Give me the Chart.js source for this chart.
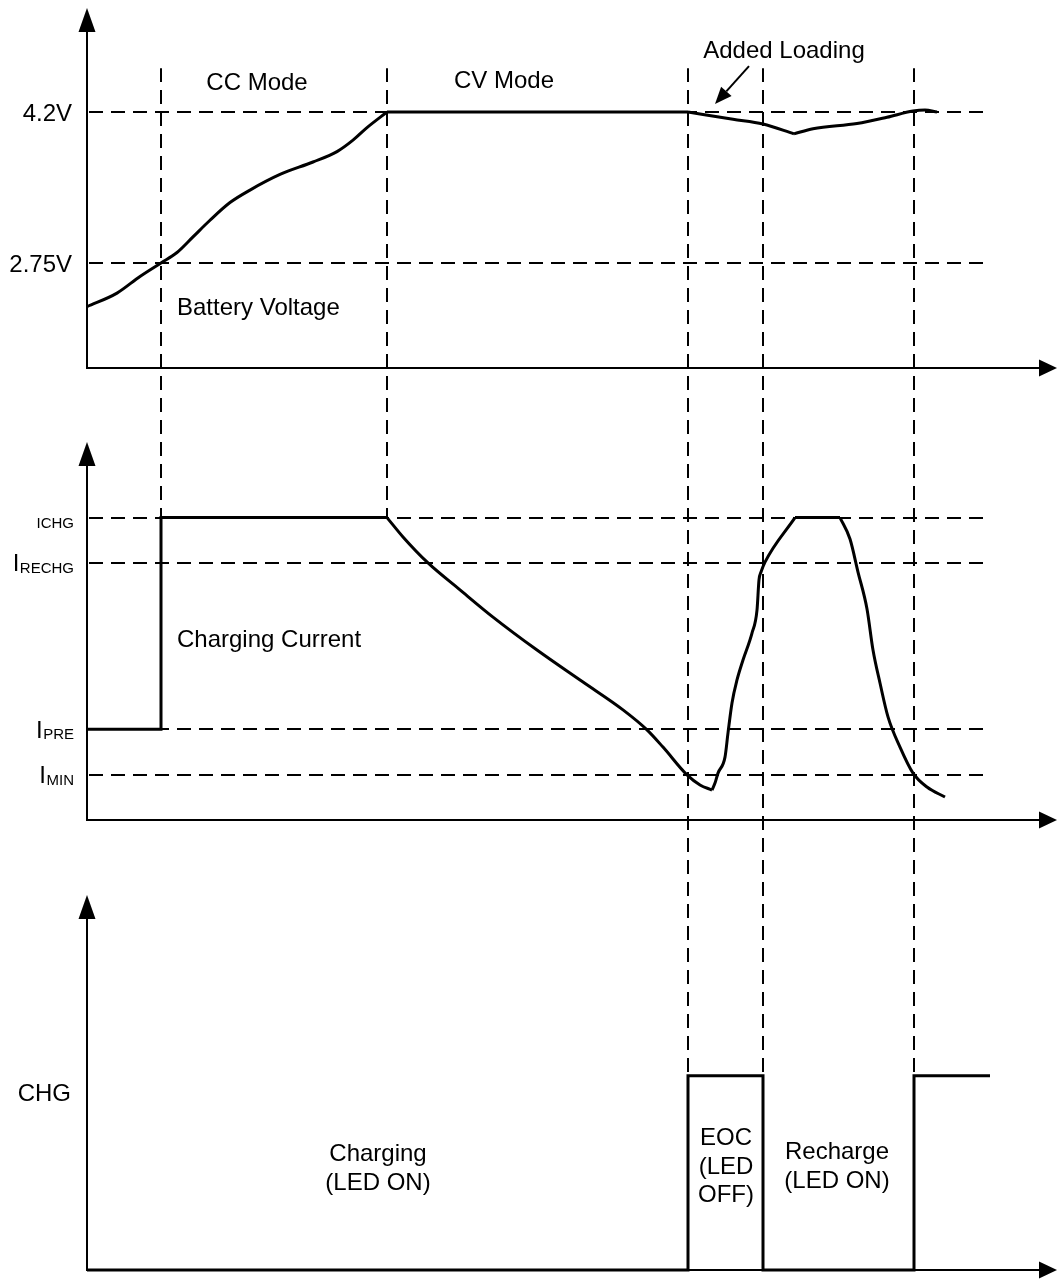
<!DOCTYPE html>
<html><head><meta charset="utf-8">
<script src="https://cdn.jsdelivr.net/npm/chart.js@4.4.1/dist/chart.umd.min.js"></script>
<style>
html,body{margin:0;padding:0;background:#fff;}
#wrap{position:relative;width:1057px;height:1280px;overflow:hidden;}
canvas{position:absolute;left:0;}
</style></head><body>
<div id="wrap">
<canvas id="c1" width="1057" height="400" style="top:0px"></canvas>
<canvas id="c2" width="1057" height="450" style="top:400px"></canvas>
<canvas id="c3" width="1057" height="430" style="top:850px"></canvas>
</div>
<script>
// ---------- DATA (time axis in arbitrary units) ----------
const markerTimes = [74, 300, 601, 676, 827];   // phase boundaries (dashed verticals)
const markerReach = [2, 2, 3, 3, 3];            // last panel each boundary reaches
const levelLineEndT = 903;

// Battery voltage (V)
const voltLevels = [4.2, 2.75];
const voltTickLabels = ['4.2V', '2.75V'];
const vRiseT = [0, 30, 53, 74, 90, 106, 123, 143, 163, 193, 226, 250, 266, 280, 300];
const vRiseV = [2.33, 2.46, 2.62, 2.75, 2.85, 3.00, 3.16, 3.33, 3.45, 3.60, 3.72, 3.82, 3.93, 4.05, 4.20];
const vFlatT = [300, 601];
const vFlatV = [4.20, 4.20];
const vDipT = [601, 646, 676, 707];
const vDipV = [4.20, 4.13, 4.085, 3.99];
const vRecT = [707, 726, 770, 800, 826, 838, 850];
const vRecV = [3.99, 4.04, 4.09, 4.15, 4.21, 4.22, 4.20];

// Charging current (relative to ICHG)
const curLevels = [1.0, 0.85, 0.30, 0.15];
const curLabelMain = ['', 'I', 'I', 'I'];
const curLabelSub = ['ICHG', 'RECHG', 'PRE', 'MIN'];
const iStepT = [0, 74, 74, 300];
const iStepV = [0.30, 0.30, 1.0, 1.0];
const iFallT = [300, 316, 341, 373, 406, 450, 496, 536, 560, 576, 600, 613, 625];
const iFallV = [1.0, 0.936, 0.850, 0.761, 0.671, 0.562, 0.456, 0.364, 0.298, 0.241, 0.149, 0.116, 0.099];
const iRiseT = [625, 628, 631, 638, 641, 645, 650, 656, 665, 670, 672, 674, 678, 708];
const iRiseV = [0.099, 0.122, 0.155, 0.208, 0.288, 0.387, 0.463, 0.529, 0.618, 0.694, 0.794, 0.820, 0.853, 1.0];
const iTopT = [708, 753];
const iTopV = [1.0, 1.0];
const iDropT = [753, 763, 771, 780, 786, 793, 801, 813, 826, 840, 858];
const iDropV = [1.0, 0.929, 0.820, 0.698, 0.562, 0.453, 0.341, 0.241, 0.155, 0.109, 0.076];

// CHG status pin (logic level)
const chgT = [0, 601, 601, 676, 676, 827, 827, 903];
const chgV = [0, 0, 1, 1, 0, 0, 1, 1];

// Text
const panel1Texts = ['CC Mode', 'CV Mode', 'Battery Voltage', 'Added Loading'];
const panel2Texts = ['Charging Current'];
const chgAxisLabel = 'CHG';
const chargingText = ['Charging', '(LED ON)'];
const eocText = ['EOC', '(LED', 'OFF)'];
const rechargeText = ['Recharge', '(LED ON)'];

// ---------- DRAWING ----------
const FONT = '"Liberation Sans", Arial, Helvetica, sans-serif';
const DASH = [14, 8];
const DASH_START_PAGE_Y = 68;
const X_MIN = 0, X_MAX = 970;

const pts = (ts, vs) => ts.map((t, i) => ({ x: t, y: vs[i] }));
function seg(ts, vs, smooth) {
  return {
    data: pts(ts, vs), borderColor: '#000', borderWidth: 3, pointRadius: 0,
    fill: false, clip: false, tension: smooth ? 0.4 : 0,
    cubicInterpolationMode: smooth ? 'monotone' : 'default',
    borderJoinStyle: 'miter', borderCapStyle: 'butt'
  };
}
function dashed(ctx, x0, y0, x1, y1, offset) {
  ctx.save();
  ctx.setLineDash(DASH);
  ctx.lineDashOffset = offset || 0;
  ctx.lineWidth = 2; ctx.strokeStyle = '#000';
  ctx.beginPath(); ctx.moveTo(x0, y0); ctx.lineTo(x1, y1); ctx.stroke();
  ctx.restore();
}
function axes(chart) {
  const { ctx, chartArea: { left, top, right, bottom } } = chart;
  ctx.save();
  ctx.strokeStyle = '#000'; ctx.fillStyle = '#000'; ctx.lineWidth = 2;
  ctx.beginPath();
  ctx.moveTo(left, bottom + 1); ctx.lineTo(left, top + 20);
  ctx.moveTo(left - 1, bottom); ctx.lineTo(right - 16, bottom);
  ctx.stroke();
  ctx.beginPath(); ctx.moveTo(left, top); ctx.lineTo(left - 8.5, top + 24); ctx.lineTo(left + 8.5, top + 24); ctx.closePath(); ctx.fill();
  ctx.beginPath(); ctx.moveTo(right, bottom); ctx.lineTo(right - 18, bottom - 8.5); ctx.lineTo(right - 18, bottom + 8.5); ctx.closePath(); ctx.fill();
  ctx.restore();
}
function txt(ctx, s, x, yc, align, size) {
  ctx.save();
  ctx.font = size + 'px ' + FONT; ctx.fillStyle = '#000';
  ctx.textAlign = align; ctx.textBaseline = 'alphabetic';
  ctx.fillText(s, x, yc + 0.358 * size);
  ctx.restore();
}
function verticals(chart, panel, pageTop, endValue) {
  const xs = chart.scales.x, ys = chart.scales.y;
  markerTimes.forEach((t, i) => {
    if (markerReach[i] < panel) return;
    const x = Math.round(xs.getPixelForValue(t));
    let y0 = 0, y1 = chart.height;
    if (panel === 1) y0 = ys.getPixelForValue(endValue.top);
    if (markerReach[i] === panel && panel > 1) y1 = ys.getPixelForValue(endValue.bottom);
    dashed(chart.ctx, x, y0, x, y1, pageTop + y0 - DASH_START_PAGE_Y);
  });
}
function levels(chart, vals) {
  const xs = chart.scales.x, ys = chart.scales.y;
  vals.forEach(v => {
    const y = Math.round(ys.getPixelForValue(v));
    dashed(chart.ctx, chart.chartArea.left + 2, y, xs.getPixelForValue(levelLineEndT), y, 0);
  });
}

function makeChart(id, datasets, yMin, yMax, pad, plugin) {
  return new Chart(document.getElementById(id), {
    type: 'line',
    data: { datasets },
    options: {
      responsive: false, animation: false, events: [],
      layout: { padding: pad },
      scales: {
        x: { type: 'linear', min: X_MIN, max: X_MAX, display: false },
        y: { type: 'linear', min: yMin, max: yMax, display: false }
      },
      plugins: { legend: { display: false }, tooltip: { enabled: false } }
    },
    plugins: [plugin]
  });
}

// Panel 1: battery voltage
makeChart('c1', [
  seg(vRiseT, vRiseV, true), seg(vFlatT, vFlatV, false),
  seg(vDipT, vDipV, true), seg(vRecT, vRecV, true)
], 1.74, 5.2, { left: 87, right: 0, top: 8, bottom: 32 }, {
  id: 'p1',
  beforeDatasetsDraw(chart) {
    levels(chart, voltLevels);
    verticals(chart, 1, 0, { top: 4.62 });
    axes(chart);
  },
  afterDatasetsDraw(chart) {
    const { ctx, scales: { x, y }, chartArea } = chart;
    voltLevels.forEach((v, i) => txt(ctx, voltTickLabels[i], chartArea.left - 15, y.getPixelForValue(v), 'right', 24));
    txt(ctx, panel1Texts[0], x.getPixelForValue(170), y.getPixelForValue(4.49), 'center', 24);
    txt(ctx, panel1Texts[1], x.getPixelForValue(417), y.getPixelForValue(4.51), 'center', 24);
    txt(ctx, panel1Texts[2], x.getPixelForValue(90), y.getPixelForValue(2.33), 'left', 24);
    txt(ctx, panel1Texts[3], x.getPixelForValue(697), y.getPixelForValue(4.80), 'center', 24);
    // annotation arrow
    const ax0 = x.getPixelForValue(662), ay0 = y.getPixelForValue(4.642);
    const ax1 = x.getPixelForValue(628), ay1 = y.getPixelForValue(4.277);
    const ang = Math.atan2(ay1 - ay0, ax1 - ax0), L = 17, W = 7;
    const bx = ax1 - L * Math.cos(ang), by = ay1 - L * Math.sin(ang);
    ctx.save();
    ctx.strokeStyle = '#000'; ctx.fillStyle = '#000'; ctx.lineWidth = 2;
    ctx.beginPath(); ctx.moveTo(ax0, ay0); ctx.lineTo(bx, by); ctx.stroke();
    ctx.beginPath(); ctx.moveTo(ax1, ay1);
    ctx.lineTo(bx + W * Math.sin(ang), by - W * Math.cos(ang));
    ctx.lineTo(bx - W * Math.sin(ang), by + W * Math.cos(ang));
    ctx.closePath(); ctx.fill();
    ctx.restore();
  }
});

// Panel 2: charging current
makeChart('c2', [
  seg(iStepT, iStepV, false), seg(iFallT, iFallV, true), seg(iRiseT, iRiseV, true),
  seg(iTopT, iTopV, false), seg(iDropT, iDropV, true)
], 0, 1.25, { left: 87, right: 0, top: 42, bottom: 30 }, {
  id: 'p2',
  beforeDatasetsDraw(chart) {
    levels(chart, curLevels);
    verticals(chart, 2, 400, { bottom: curLevels[0] });
    axes(chart);
  },
  afterDatasetsDraw(chart) {
    const { ctx, scales: { x, y } } = chart;
    curLevels.forEach((v, i) => {
      const py = y.getPixelForValue(v);
      ctx.save();
      ctx.font = '15px ' + FONT; ctx.fillStyle = '#000';
      ctx.textAlign = 'right'; ctx.textBaseline = 'alphabetic';
      const rx = 74;
      ctx.fillText(curLabelSub[i], rx, py + 10);
      const w = ctx.measureText(curLabelSub[i]).width;
      if (curLabelMain[i]) {
        ctx.font = '24px ' + FONT;
        ctx.fillText(curLabelMain[i], rx - w - 0.5, py + 8.5);
      }
      ctx.restore();
    });
    txt(ctx, panel2Texts[0], x.getPixelForValue(90), y.getPixelForValue(0.60), 'left', 24);
  }
});

// Panel 3: CHG pin
makeChart('c3', [seg(chgT, chgV, false)], 0, 1.93, { left: 87, right: 0, top: 45, bottom: 10 }, {
  id: 'p3',
  beforeDatasetsDraw(chart) {
    verticals(chart, 3, 850, { bottom: 1 });
    axes(chart);
  },
  afterDatasetsDraw(chart) {
    const { ctx, scales: { x, y }, chartArea } = chart;
    txt(ctx, chgAxisLabel, chartArea.left - 16, y.getPixelForValue(0.916), 'right', 24);
    const cv = [0.607, 0.458];
    chargingText.forEach((s, i) => txt(ctx, s, x.getPixelForValue(291), y.getPixelForValue(cv[i]), 'center', 24));
    const ev = [0.685, 0.540, 0.394];
    eocText.forEach((s, i) => txt(ctx, s, x.getPixelForValue(639), y.getPixelForValue(ev[i]), 'center', 24));
    const rv = [0.618, 0.468];
    rechargeText.forEach((s, i) => txt(ctx, s, x.getPixelForValue(750), y.getPixelForValue(rv[i]), 'center', 24));
  }
});
</script>
</body></html>
